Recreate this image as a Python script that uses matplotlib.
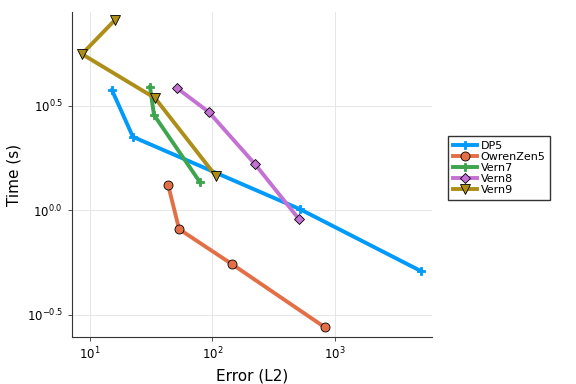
import matplotlib.pyplot as plt
from matplotlib.ticker import FixedLocator, FixedFormatter, NullLocator

# Work-precision data
dp5_err = [15.1, 22.4, 518, 5035]
dp5_time = [3.75, 2.24, 1.01, 0.511]

owren_err = [43.4, 53.4, 144, 828]
owren_time = [1.32, 0.811, 0.552, 0.275]

vern7_err = [30.9, 33.3, 79]
vern7_time = [3.88, 2.85, 1.36]

vern8_err = [51.3, 93.5, 222, 508]
vern8_time = [3.83, 2.94, 1.66, 0.906]

vern9_err = [16.0, 8.6, 34.0, 107]
vern9_time = [8.11, 5.57, 3.43, 1.45]

series = [
    ("DP5", dp5_err, dp5_time, "#009AFA", "P"),
    ("OwrenZen5", owren_err, owren_time, "#E36F47", "o"),
    ("Vern7", vern7_err, vern7_time, "#3EA44E", "P"),
    ("Vern8", vern8_err, vern8_time, "#C371D2", "D"),
    ("Vern9", vern9_err, vern9_time, "#AC8E18", "v"),
]

fig = plt.figure(figsize=(5.76, 3.84), dpi=100)
ax = fig.add_axes([0.125, 0.122, 0.625, 0.847])

for name, err, t, color, marker in series:
    stroke = color if marker == "P" else "black"
    size = {"P": 6, "o": 6.5, "D": 5, "v": 7}[marker]
    ax.plot(err, t, color=color, lw=2.8, marker=marker, markersize=size,
            markeredgecolor=stroke, markeredgewidth=0.6, label=name)

ax.set_xscale("log")
ax.set_yscale("log")
ax.set_xlim(7.13, 6194)
ax.set_ylim(0.247, 8.86)

ax.xaxis.set_major_locator(FixedLocator([10, 100, 1000]))
ax.xaxis.set_major_formatter(FixedFormatter([r"$10^{1}$", r"$10^{2}$", r"$10^{3}$"]))
ax.xaxis.set_minor_locator(NullLocator())
yt = [10 ** -0.5, 1.0, 10 ** 0.5]
ax.yaxis.set_major_locator(FixedLocator(yt))
ax.yaxis.set_major_formatter(FixedFormatter([r"$10^{-0.5}$", r"$10^{0.0}$", r"$10^{0.5}$"]))
ax.yaxis.set_minor_locator(NullLocator())

ax.grid(True, color="#e6e6e6", lw=0.7)
ax.tick_params(labelsize=8.5, length=3, width=0.6, color="#333333")
for s in ["top", "right"]:
    ax.spines[s].set_visible(False)
for s in ["left", "bottom"]:
    ax.spines[s].set_color("#333333")
    ax.spines[s].set_linewidth(0.8)

ax.set_xlabel("Error (L2)", fontsize=11)
ax.set_ylabel("Time (s)", fontsize=11)

ax.legend(loc="center left", bbox_to_anchor=(1.03, 0.52), fontsize=8,
          frameon=True, fancybox=False, edgecolor="black",
          handlelength=2.2, borderpad=0.4, labelspacing=0.1, handletextpad=0.3)

fig.savefig("out.png", dpi=100)
